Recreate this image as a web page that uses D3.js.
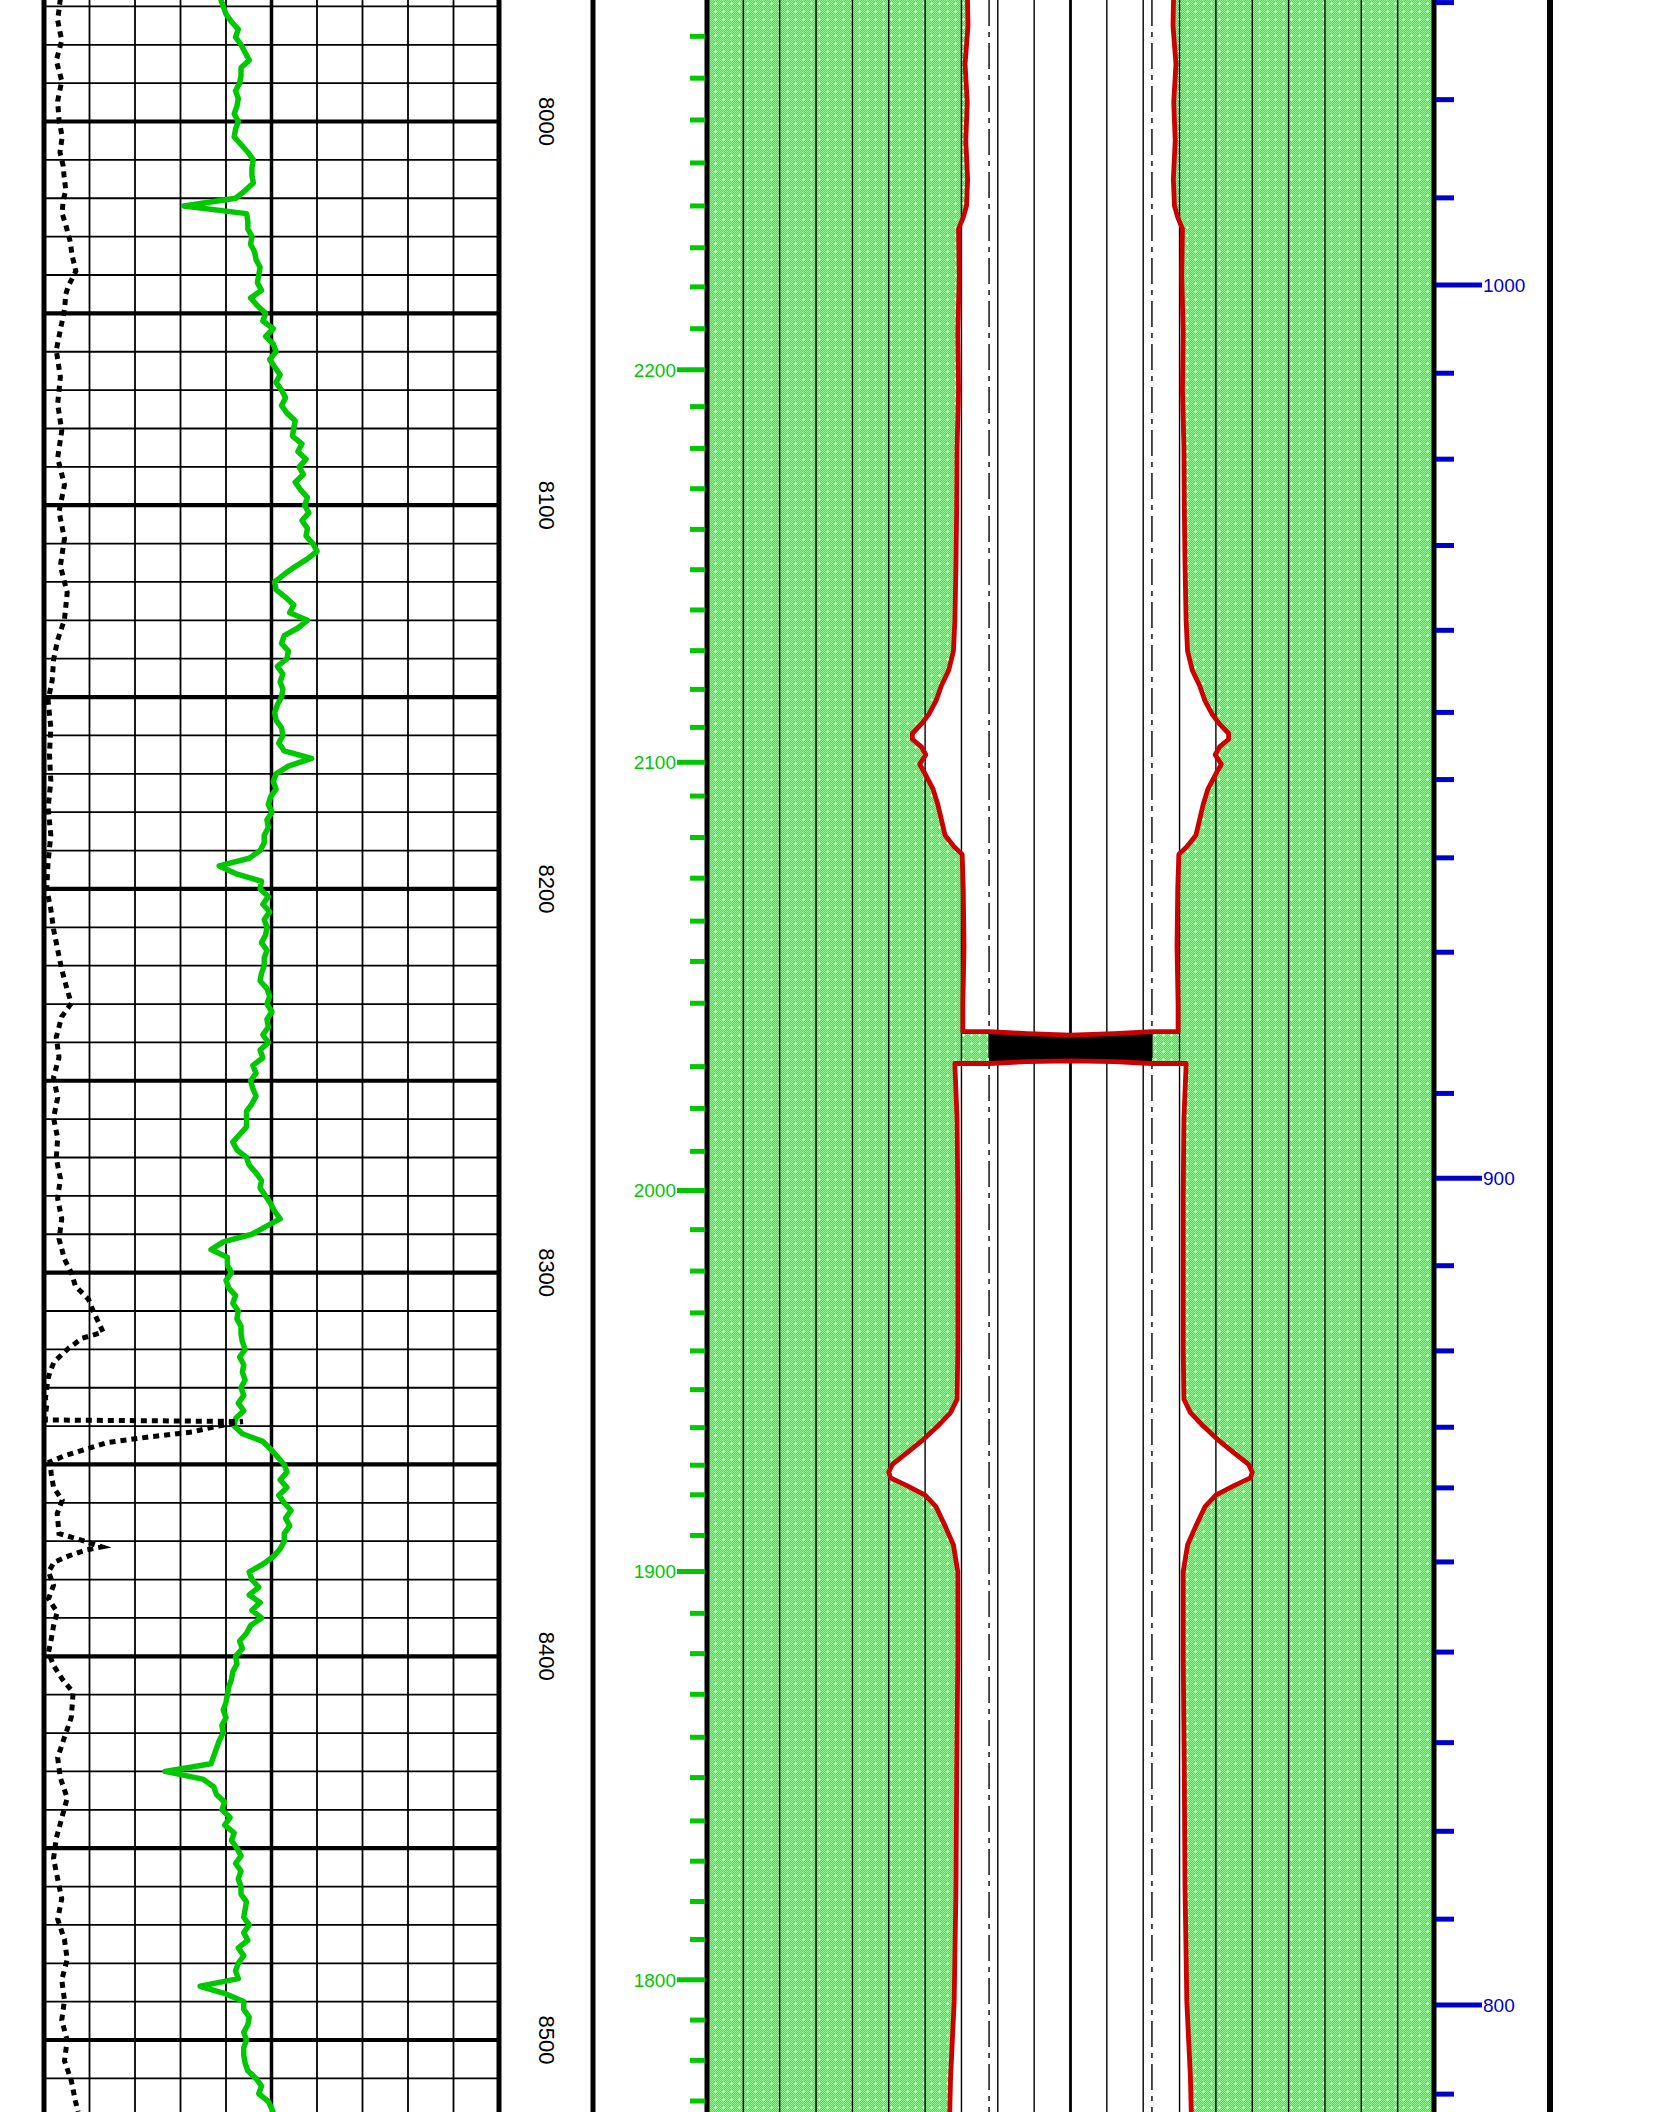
<!DOCTYPE html>
<html>
<head>
<meta charset="utf-8">
<script src="https://cdn.jsdelivr.net/npm/d3@7"></script>
<style>
  body { margin: 0; background: #fff; }
  svg { display: block; }
  text { font-family: "Liberation Sans", Arial, sans-serif; }
</style>
</head>
<body>
<svg id="log" width="1659" height="2112"></svg>
<script>
const depthTop = 7968.33, depthBottom = 8518.76;
const depthLabels = [8000, 8100, 8200, 8300, 8400, 8500];

// gamma ray, sampled every 2 ft from 7968 ft
const grStart = 7968, grStep = 2;
const grValues = [
  38.8, 39.4, 40.0, 41.2, 42.7, 42.1, 43.3, 44.2, 45.1, 43.3,
  43.3, 43.0, 42.1, 42.7, 42.4, 41.8, 42.7, 42.1, 41.8, 43.3,
  44.8, 46.0, 45.7, 45.7, 46.0, 44.2, 42.1, 30.7, 44.5, 44.8,
  44.8, 45.7, 45.4, 46.3, 46.6, 47.5, 47.2, 46.9, 47.8, 45.4,
  46.9, 48.7, 48.1, 50.4, 48.7, 50.4, 51.0, 49.6, 50.7, 51.9,
  51.0, 52.2, 53.1, 52.2, 53.4, 55.2, 54.9, 54.6, 56.7, 55.8,
  57.6, 56.1, 57.0, 55.2, 56.4, 57.9, 57.3, 58.2, 56.7, 57.9,
  57.6, 59.1, 60.0, 57.9, 55.2, 52.8, 50.7, 51.0, 53.1, 54.9,
  54.0, 57.9, 55.8, 52.8, 52.2, 53.7, 53.4, 51.3, 52.5, 51.9,
  52.5, 52.2, 51.3, 50.7, 51.0, 52.2, 52.5, 51.6, 52.8, 58.8,
  53.7, 51.0, 50.4, 51.0, 49.8, 49.3, 50.1, 49.0, 49.3, 48.4,
  48.4, 47.5, 45.1, 38.5, 42.1, 47.8, 47.5, 49.3, 48.1, 49.6,
  48.4, 49.0, 48.7, 47.8, 49.0, 48.4, 48.4, 47.8, 47.5, 49.0,
  49.6, 49.0, 50.1, 49.0, 49.3, 48.1, 49.3, 47.5, 48.1, 45.9,
  46.6, 45.4, 45.9, 46.6, 45.7, 44.5, 44.5, 44.5, 43.0, 41.5,
  42.4, 44.5, 45.1, 46.6, 47.8, 47.5, 48.7, 49.8, 50.7, 51.9,
  48.7, 45.7, 39.4, 36.7, 40.3, 40.3, 41.2, 40.0, 40.6, 42.1,
  41.5, 42.7, 42.4, 43.3, 43.3, 43.6, 44.2, 43.0, 43.9, 43.6,
  44.2, 43.3, 43.9, 42.7, 43.9, 42.1, 41.8, 43.6, 48.1, 49.8,
  51.3, 52.8, 53.4, 51.9, 53.4, 51.6, 52.8, 54.3, 53.1, 54.0,
  52.8, 52.8, 51.9, 50.4, 48.1, 45.1, 45.7, 47.2, 45.1, 47.5,
  45.7, 47.8, 45.4, 44.5, 43.0, 43.6, 42.1, 42.4, 41.5, 41.2,
  40.6, 40.3, 40.0, 39.4, 40.0, 39.1, 39.4, 38.5, 37.9, 37.3,
  36.7, 26.6, 34.9, 37.3, 37.9, 39.7, 39.1, 40.9, 39.7, 41.8,
  41.2, 42.4, 43.3, 42.1, 43.3, 42.7, 43.3, 43.3, 44.5, 44.2,
  43.9, 45.1, 43.9, 44.8, 42.7, 43.9, 42.7, 42.1, 42.7, 34.3,
  40.0, 43.9, 43.9, 45.1, 44.8, 43.9, 44.5, 43.9, 43.9, 44.2,
  44.8, 46.6, 47.8, 47.2, 49.3, 50.1, 50.7
];

// dashed curve: [depth, value]
const spCurve = [
  [7968, 3.6], [7973.6, 3.0], [7978.9, 3.9], [7984.1, 2.7], [7989.4, 3.9], [7994.7, 3.0],
  [7999.6, 3.3], [8004, 4.0], [8008, 3.5], [8011.5, 4.2], [8014, 4.4], [8018, 4.8],
  [8020.5, 4.2], [8024, 4.0], [8027, 4.8], [8031, 5.7], [8035, 6.2], [8039, 7.0],
  [8043, 5.3], [8045, 4.8], [8049, 4.5], [8054.3, 3.6], [8059.6, 2.7], [8066.6, 3.6],
  [8073.6, 3.0], [8080.6, 3.9], [8087.7, 3.0], [8094.7, 4.5], [8101.7, 3.3], [8108.7, 4.5],
  [8115.8, 3.6], [8122.8, 5.1], [8129.8, 4.5], [8135.1, 3.0], [8140.3, 2.1], [8145.6, 1.8],
  [8150.9, 0.9], [8157.9, 1.5], [8164.9, 1.2], [8171.9, 1.5], [8178.9, 0.9], [8186, 1.5],
  [8193, 0.9], [8200, 0.6], [8205.3, 1.5], [8210.5, 2.1], [8215.8, 3.0], [8221, 3.9],
  [8226.3, 5.1], [8229.8, 6.0], [8233.3, 3.9], [8238.6, 2.7], [8243.9, 3.3], [8249.1, 2.1],
  [8254.4, 3.0], [8259.7, 2.1], [8264.9, 3.0], [8270.2, 2.7], [8275.5, 3.6], [8280.7, 3.0],
  [8286, 3.9], [8291.2, 3.3], [8296.5, 4.5], [8300, 6.0], [8303.5, 6.9], [8307, 9.8],
  [8310, 10.8], [8313, 12.0], [8315.5, 13.0], [8317.1, 8.4], [8319.8, 5.3], [8323.3, 2.2],
  [8325.9, 1.3], [8327.6, 0.9], [8332.8, 0.3], [8334.5, 0.6], [8337.4, 0.3], [8338.4, 0.3],
  [8338.8, 43.7], [8340.2, 37.4], [8341.5, 32.7], [8342.8, 23.3], [8344.3, 13.9], [8346, 9.2],
  [8347.8, 4.4], [8349.3, 1.3], [8352.5, 1.6], [8356, 2.1], [8359.3, 4.0], [8362.8, 2.9],
  [8368, 3.3], [8369.8, 8.4], [8371.5, 12.7], [8372.3, 9.2], [8373.9, 5.3], [8375.5, 2.2],
  [8378, 1.0], [8381.5, 2.1], [8385, 1.0], [8388.5, 2.9], [8392, 2.1], [8395.5, 1.6],
  [8399, 1.0], [8402.4, 2.1], [8405.9, 4.0], [8409.4, 6.4], [8415.9, 6.0], [8421.1, 4.5],
  [8426.4, 3.0], [8431.7, 3.6], [8436.9, 5.1], [8442.2, 3.9], [8447.4, 2.7], [8452.7, 2.1],
  [8458, 3.0], [8463.2, 3.9], [8468.5, 3.0], [8473.8, 4.5], [8479, 5.1], [8484.3, 3.9],
  [8489.6, 4.5], [8494.8, 3.9], [8500.1, 5.1], [8505.4, 4.5], [8510.6, 6.0], [8515.9, 6.9],
  [8518.7, 7.5]
];

// caliper half-width (track divisions) above and below the plug: [depth, radius]
const caliperUpper = [
  [7960, 2.85], [7975, 2.82], [7985, 2.9], [7995, 2.84], [8005, 2.88], [8015, 2.83],
  [8022, 2.86], [8025, 2.95], [8028, 3.08], [8040, 3.06], [8055, 3.1], [8070, 3.08],
  [8085, 3.12], [8100, 3.13], [8115, 3.15], [8130, 3.18], [8138, 3.22], [8143, 3.35],
  [8147, 3.55], [8151, 3.7], [8154.5, 3.9], [8157, 4.1], [8159.5, 4.35], [8161, 4.35],
  [8163, 4.1], [8165, 3.98], [8167.5, 4.15], [8170, 4.0], [8174, 3.78], [8178, 3.65],
  [8182, 3.55], [8186, 3.45], [8189, 3.2], [8191, 2.98], [8200, 2.95], [8215, 2.93],
  [8230, 2.96], [8236.5, 2.96]
];
const caliperLower = [
  [8246, 3.18], [8260, 3.12], [8280, 3.1], [8300, 3.1], [8320, 3.1], [8333, 3.12],
  [8336.5, 3.3], [8340, 3.65], [8343.5, 4.05], [8347, 4.5], [8350, 4.9], [8352, 5.0],
  [8353.5, 4.95], [8355.5, 4.5], [8358, 4.0], [8361, 3.7], [8366, 3.45], [8371, 3.22],
  [8378, 3.1], [8400, 3.1], [8430, 3.13], [8460, 3.15], [8490, 3.2], [8510, 3.3], [8530, 3.35]
];
const bitRadius = 2.24;
const plugTop = [[-2.24, 8237.2], [-1.2, 8237.7], [0, 8238.1], [1.2, 8237.7], [2.24, 8237.2]];
const plugBottom = [[-2.24, 8245.5], [-1.2, 8245.0], [0, 8244.8], [1.2, 8245.0], [2.24, 8245.5]];

// green scale (left of middle track): [value, depth]
const timeTicks = [
  [2280, 7977.8], [2270, 7988.7], [2260, 7999.6], [2250, 8010.8], [2240, 8022.0],
  [2230, 8032.9], [2220, 8043.1], [2210, 8054.0], [2200, 8064.7], [2190, 8074.3],
  [2180, 8085.2], [2170, 8095.7], [2160, 8106.3], [2150, 8116.8], [2140, 8127.3],
  [2130, 8137.9], [2120, 8148.0], [2110, 8157.9], [2100, 8167.0], [2090, 8175.8],
  [2080, 8186.6], [2070, 8197.2], [2060, 8208.4], [2050, 8218.9], [2040, 8229.8],
  [2030, 8246.3], [2020, 8257.2], [2010, 8268.4], [2000, 8278.6], [1990, 8288.8],
  [1980, 8299.6], [1970, 8310.5], [1960, 8320.4], [1950, 8330.5], [1940, 8340.4],
  [1930, 8350.2], [1920, 8357.9], [1910, 8368.5], [1900, 8377.9], [1890, 8388.8],
  [1880, 8399.3], [1870, 8409.9], [1860, 8421.1], [1850, 8431.6], [1840, 8442.9],
  [1830, 8453.4], [1820, 8463.9], [1810, 8473.8], [1800, 8484.3], [1790, 8494.8],
  [1780, 8505.3], [1770, 8515.9]
];
const timeLabels = [2200, 2100, 2000, 1900, 1800];

// blue scale (right of middle track): [value, depth]
const velTicks = [
  [1030, 7969.0], [1020, 7994.3], [1010, 8019.9], [1000, 8042.6], [990, 8065.6],
  [980, 8088.0], [970, 8110.5], [960, 8132.6], [950, 8154.0], [940, 8171.5],
  [930, 8191.9], [920, 8216.5], [910, 8253.3], [900, 8275.4], [890, 8298.2],
  [880, 8320.4], [870, 8340.3], [860, 8356.1], [850, 8375.4], [840, 8398.9],
  [830, 8422.5], [820, 8445.6], [810, 8468.5], [800, 8490.9], [790, 8514.1]
];
const velLabels = [1000, 900, 800];

// ---- drawing ----
const W = 1659, H = 2112;
const svg = d3.select("#log");

const y = d3.scaleLinear().domain([depthTop, depthBottom]).range([0, H]);
const xLeft = d3.scaleLinear().domain([0, 100]).range([44, 499]);
const xMid = d3.scaleLinear().domain([-10, 10]).range([707, 1434]);

const GREEN = "#00c800", RED = "#cc0000", BLUE = "#0000cc";

// sand pattern for the green fill
const defs = svg.append("defs");
const pat = defs.append("pattern")
  .attr("id", "sand")
  .attr("patternUnits", "userSpaceOnUse")
  .attr("width", 8).attr("height", 8);
pat.append("rect").attr("width", 8).attr("height", 8).attr("fill", "#3ce83c");
for (let r = 0; r < 8; r++) {
  for (let c = (r % 2); c < 8; c += 2) {
    pat.append("rect").attr("x", c).attr("y", r).attr("width", 1).attr("height", 1)
      .attr("fill", "#92f492");
  }
}
pat.append("rect").attr("x", 3).attr("y", 2).attr("width", 1).attr("height", 3).attr("fill", "#fff");
pat.append("rect").attr("x", 2).attr("y", 3).attr("width", 3).attr("height", 1).attr("fill", "#fff");

defs.append("clipPath").attr("id", "leftClip")
  .append("rect")
  .attr("x", xLeft(0)).attr("y", 0)
  .attr("width", xLeft(100) - xLeft(0)).attr("height", H);

// ---------- left track ----------
const left = svg.append("g");

const hDepths = d3.range(7970, 8520, 10);
left.selectAll(".hgrid")
  .data(hDepths)
  .enter().append("line")
  .attr("x1", xLeft(0)).attr("x2", xLeft(100))
  .attr("y1", d => y(d)).attr("y2", d => y(d))
  .attr("stroke", "#000")
  .attr("stroke-width", d => d % 50 === 0 ? 4.2 : 1.8);

left.selectAll(".vgrid")
  .data(d3.range(0, 101, 10))
  .enter().append("line")
  .attr("x1", d => xLeft(d)).attr("x2", d => xLeft(d))
  .attr("y1", 0).attr("y2", H)
  .attr("stroke", "#000")
  .attr("stroke-width", d => (d === 0 || d === 100) ? 5 : (d === 50 ? 3.5 : 1.8));

const curves = left.append("g").attr("clip-path", "url(#leftClip)");

const grLine = d3.line()
  .x(d => xLeft(d[1]))
  .y(d => y(d[0]));

curves.append("path")
  .datum(grValues.map((v, i) => [grStart + i * grStep, v]))
  .attr("d", grLine)
  .attr("fill", "none")
  .attr("stroke", GREEN)
  .attr("stroke-width", 5.5)
  .attr("stroke-linejoin", "round");

curves.append("path")
  .datum(spCurve)
  .attr("d", grLine)
  .attr("fill", "none")
  .attr("stroke", "#000")
  .attr("stroke-width", 5)
  .attr("stroke-dasharray", "6,5");

// depth labels
svg.selectAll(".depth")
  .data(depthLabels)
  .enter().append("text")
  .attr("transform", d => `translate(547,${y(d)}) rotate(90)`)
  .attr("text-anchor", "middle")
  .attr("dy", "0.36em")
  .attr("font-size", 22)
  .attr("fill", "#000")
  .text(d => d);

svg.append("line")
  .attr("x1", 593).attr("x2", 593).attr("y1", 0).attr("y2", H)
  .attr("stroke", "#000").attr("stroke-width", 5);

// ---------- middle track ----------
const mid = svg.append("g");

mid.append("rect")
  .attr("x", xMid(-10)).attr("y", 0)
  .attr("width", xMid(10) - xMid(-10)).attr("height", H)
  .attr("fill", "url(#sand)");

// hole outline above and below the plug
const holeLine = d3.line().x(d => xMid(d[0])).y(d => y(d[1]));

const rTopEdge = caliperUpper[caliperUpper.length - 1];
const upperPts = []
  .concat(caliperUpper.map(([d, r]) => [-r, d]))
  .concat([[-rTopEdge[1], plugTop[0][1]]])
  .concat(plugTop)
  .concat([[rTopEdge[1], plugTop[plugTop.length - 1][1]]])
  .concat(caliperUpper.slice().reverse().map(([d, r]) => [r, d]));

const rBotEdge = caliperLower[0];
const lowerPts = []
  .concat(caliperLower.slice().reverse().map(([d, r]) => [-r, d]))
  .concat([[-rBotEdge[1], plugBottom[0][1]]])
  .concat(plugBottom)
  .concat([[rBotEdge[1], plugBottom[plugBottom.length - 1][1]]])
  .concat(caliperLower.map(([d, r]) => [r, d]));

[upperPts, lowerPts].forEach(pts => {
  mid.append("path").attr("d", holeLine(pts)).attr("fill", "#fff").attr("stroke", "none");
});

// vertical grid
mid.selectAll(".mgrid")
  .data(d3.range(-10, 10.5, 1))
  .enter().append("line")
  .attr("x1", d => xMid(d)).attr("x2", d => xMid(d))
  .attr("y1", 0).attr("y2", H)
  .attr("stroke", "#000")
  .attr("stroke-width", d => Math.abs(d) === 10 ? 5 : (d === 0 ? 2.8 : 1.4));

// bit size (dash-dot)
mid.selectAll(".bit")
  .data([-bitRadius, bitRadius])
  .enter().append("line")
  .attr("x1", d => xMid(d)).attr("x2", d => xMid(d))
  .attr("y1", 0).attr("y2", H)
  .attr("stroke", "#222")
  .attr("stroke-width", 1.6)
  .attr("stroke-dasharray", "26,6,5,6");

// plug
mid.append("path")
  .attr("d", holeLine(plugTop.concat(plugBottom.slice().reverse())) + "Z")
  .attr("fill", "#000");

[upperPts, lowerPts].forEach(pts => {
  mid.append("path").attr("d", holeLine(pts))
    .attr("fill", "none").attr("stroke", RED)
    .attr("stroke-width", 4.8).attr("stroke-linejoin", "round");
});

// green scale ticks
const xTickEnd = xMid(-10) - 2;
mid.selectAll(".tt")
  .data(timeTicks)
  .enter().append("line")
  .attr("x1", d => timeLabels.includes(d[0]) ? xTickEnd - 28 : xTickEnd - 15)
  .attr("x2", xTickEnd)
  .attr("y1", d => y(d[1])).attr("y2", d => y(d[1]))
  .attr("stroke", GREEN).attr("stroke-width", 5);

mid.selectAll(".tl")
  .data(timeTicks.filter(d => timeLabels.includes(d[0])))
  .enter().append("text")
  .attr("x", xTickEnd - 29)
  .attr("y", d => y(d[1]))
  .attr("dy", "0.36em")
  .attr("text-anchor", "end")
  .attr("font-size", 19)
  .attr("fill", GREEN)
  .text(d => d[0]);

// blue scale ticks
const xTickStart = xMid(10) + 2;
mid.selectAll(".vt")
  .data(velTicks)
  .enter().append("line")
  .attr("x1", xTickStart)
  .attr("x2", d => velLabels.includes(d[0]) ? xTickStart + 46 : xTickStart + 18)
  .attr("y1", d => y(d[1])).attr("y2", d => y(d[1]))
  .attr("stroke", BLUE).attr("stroke-width", 5);

mid.selectAll(".vl")
  .data(velTicks.filter(d => velLabels.includes(d[0])))
  .enter().append("text")
  .attr("x", xTickStart + 47)
  .attr("y", d => y(d[1]))
  .attr("dy", "0.36em")
  .attr("font-size", 19)
  .attr("fill", BLUE)
  .text(d => d[0]);

svg.append("line")
  .attr("x1", 1550).attr("x2", 1550).attr("y1", 0).attr("y2", H)
  .attr("stroke", "#000").attr("stroke-width", 6);
</script>
</body>
</html>
